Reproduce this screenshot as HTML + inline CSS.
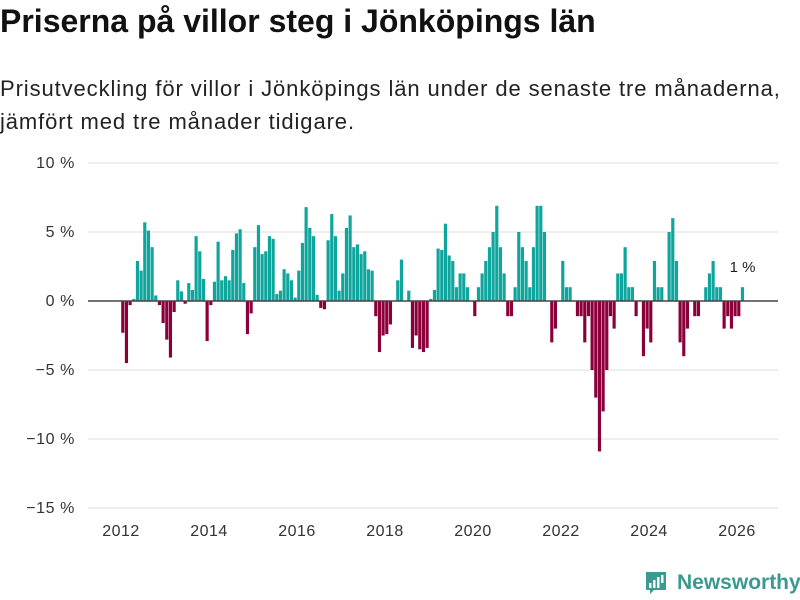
<!DOCTYPE html>
<html><head><meta charset="utf-8">
<style>
body{margin:0;background:#fff;width:800px;height:600px;overflow:hidden;font-family:"Liberation Sans",sans-serif;}
#title{position:absolute;left:0;top:3px;font-size:32px;font-weight:bold;color:#111;letter-spacing:0px;}
#sub{position:absolute;left:0;top:72px;font-size:22px;line-height:33px;color:#222;width:800px;letter-spacing:0.9px;}
svg{position:absolute;left:0;top:0;}
</style></head><body>
<div id="title">Priserna på villor steg i Jönköpings län</div>
<div id="sub">Prisutveckling för villor i Jönköpings län under de senaste tre månaderna,<br>jämfört med tre månader tidigare.</div>
<svg width="800" height="600" id="chart"></svg>
<script>
const startYear = 2012;
const values = [
-2.3,-4.5,-0.3,0.15,2.9,2.2,5.7,5.1,3.9,0.4,-0.3,-1.6,-2.8,-4.1,-0.8,1.5,0.7,-0.2,1.3,0.8,4.7,3.6,1.6,-2.9,
-0.3,1.4,4.3,1.5,1.8,1.5,3.7,4.9,5.2,1.3,-2.4,-0.9,
3.9,5.5,3.4,3.6,4.7,4.5,
0.5,0.75,2.3,2.0,1.5,0.25,2.2,4.2,6.8,5.3,4.7,0.45,-0.5,-0.6,4.4,6.3,4.7,0.75,2.0,5.3,6.2,3.9,4.1,3.4,3.6,2.3,2.2,-1.1,-3.7,-2.5,-2.4,-1.7,
0,1.5,3.0,0,0.75,-3.4,-2.5,-3.5,-3.7,-3.4,
0.15,0.8,3.8,3.7,5.6,3.3,2.9,1.0,2.0,2.0,1.0,0,-1.1,1.0,2.0,2.9,3.9,5.0,6.9,3.9,2.0,-1.1,-1.1,1.0,5.0,3.9,2.9,1.0,3.9,6.9,6.9,5.0,0,-3.0,-2.0,0,2.9,1.0,1.0,0,-1.1,-1.1,-3.0,-1.1,-5.0,
-7.0,-10.9,-8.0,-5.0,-1.1,-2.0,2.0,2.0,3.9,1.0,1.0,-1.1,0,-4.0,-2.0,-3.0,2.9,1.0,1.0,0,5.0,6.0,2.9,-3.0,-4.0,-2.0,0,-1.1,-1.1,0,1.0,2.0,2.9,1.0,1.0,-2.0,-1.1,-2.0,-1.1,-1.1,1.0
];
const yTicks = [10,5,0,-5,-10,-15];
const yTickLabels = ["10 %","5 %","0 %","−5 %","−10 %","−15 %"];
const xTicks = [2012,2014,2016,2018,2020,2022,2024,2026];
const lastLabel = "1 %";

const NS="http://www.w3.org/2000/svg";
const svg=document.getElementById('chart');
const X=yr=>121+(yr-2012)*44;
const Y=v=>301-v*13.8;
function mk(tag,attrs){const e=document.createElementNS(NS,tag);for(const k in attrs)e.setAttribute(k,attrs[k]);svg.appendChild(e);return e;}
yTicks.forEach((t,i)=>{
  if(t!==0){const g=mk('line',{x1:88,x2:778,y1:Y(t),y2:Y(t),stroke:'#ddd','stroke-width':1});
  
  }
  const l=mk('text',{x:75,y:Y(t)+5,'text-anchor':'end','font-size':16,'letter-spacing':0.6,fill:'#333','font-family':'Liberation Sans, sans-serif'});
  
  
  l.textContent=yTickLabels[i];
});
xTicks.forEach(t=>{
  const l=mk('text',{x:X(t),y:536,'text-anchor':'middle','font-size':16,'letter-spacing':0.5,fill:'#333','font-family':'Liberation Sans, sans-serif'});
  
  
  l.textContent=t;
});
const step=44/12;
values.forEach((v,i)=>{
  if(v===0)return;
  const cx=X(startYear)+(i+0.5)*step;
  const y0=Y(0),y1=Y(v);
  const b=mk('rect',{x:cx-step/2+0.2,width:step-0.5,y:Math.min(y0,y1),height:Math.abs(y1-y0),fill:v>0?'#0ea59c':'#8c003a'});
  
  
});
const z=mk('line',{x1:88,x2:778,y1:Y(0),y2:Y(0),stroke:'#444','stroke-width':1.5});


const lastX=X(startYear)+(values.length-0.5)*step;
const ll=mk('text',{x:lastX,y:Y(values[values.length-1])-15,'text-anchor':'middle','font-size':15,fill:'#222','font-family':'Liberation Sans, sans-serif'});


ll.textContent=lastLabel;
const lg=document.createElementNS(NS,'g');


svg.appendChild(lg);
lg.innerHTML='<path d="M646 572 h20 v18 h-12 l-4 4 v-4 h-4 z" fill="#3a9a8f"/><rect x="649" y="583" width="2.5" height="5" fill="#fff"/><rect x="653" y="580" width="2.5" height="8" fill="#fff"/><rect x="657" y="577" width="2.5" height="11" fill="#fff"/><rect x="661" y="575" width="2.5" height="8" fill="#fff"/><text x="677" y="589" font-size="21" font-weight="bold" fill="#3a9a8f" font-family="Liberation Sans, sans-serif">Newsworthy</text>';
</script>
</body></html>
